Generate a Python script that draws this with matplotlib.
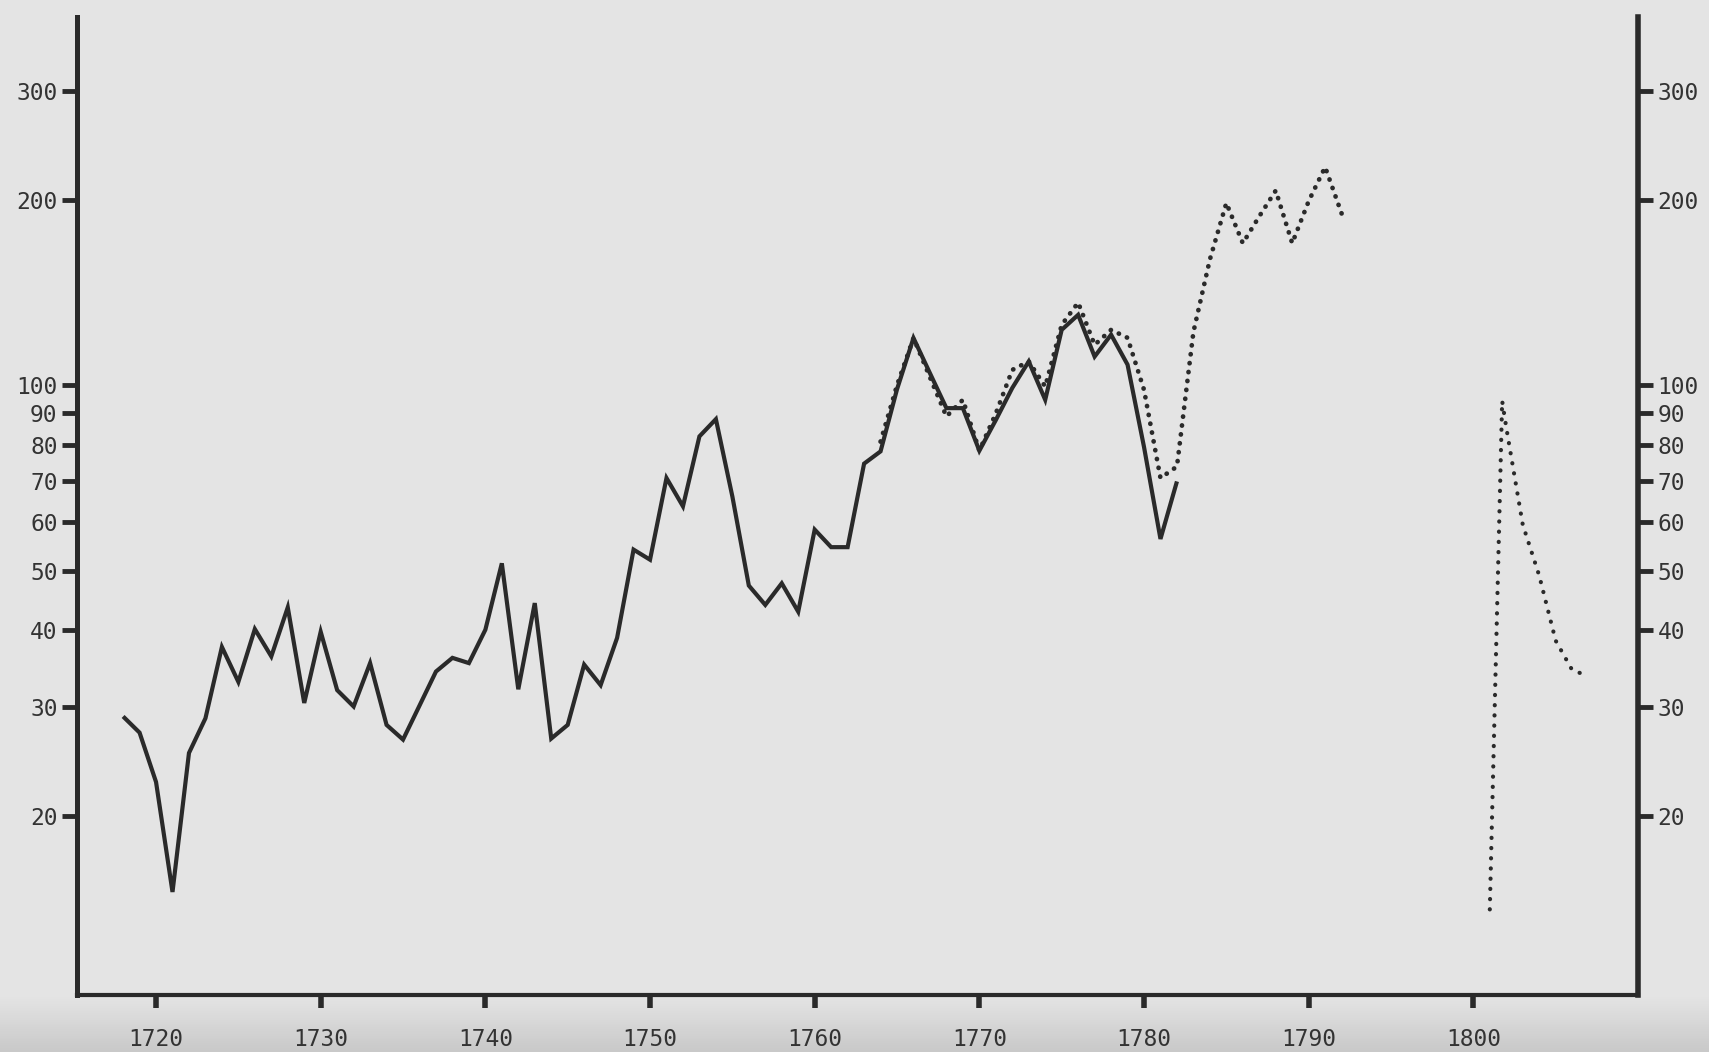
import numpy as np
import matplotlib
matplotlib.use("Agg")
import matplotlib.pyplot as plt

# Annual index, solid series (1718-1782)
solid_years = list(range(1718, 1783))
solid_values = [
    29.0, 27.3, 22.7, 15.05, 25.3, 28.8, 37.6, 33.0, 40.2, 36.3,   # 1718-1727
    43.6, 30.5, 39.8, 32.0, 30.1, 35.4, 28.1, 26.6, 30.2, 34.3,    # 1728-1737
    36.1, 35.4, 40.1, 51.4, 32.1, 44.3, 26.7, 28.1, 35.2, 32.6,    # 1738-1747
    38.9, 54.1, 52.1, 70.7, 63.6, 82.6, 88.1, 66.0, 47.3, 44.0,    # 1748-1757
    47.7, 42.9, 58.3, 54.6, 54.6, 74.6, 78.1, 98.5, 119.3, 104.6,  # 1758-1767
    91.8, 91.8, 78.3, 87.8, 99.0, 109.3, 94.7, 123.0, 130.1, 111.3,  # 1768-1777
    120.8, 108.0, 79.4, 56.3, 69.8,                                # 1778-1782
]

# Dotted series (1764-1792)
dotted_years = list(range(1764, 1793))
dotted_values = [
    81.0, 100.0, 119.3, 103.0, 89.0, 94.7, 78.3, 90.0, 105.9, 109.3,  # 1764-1773
    99.5, 125.3, 136.2, 116.3, 123.0, 119.4, 98.3, 70.7, 73.8, 122.0,  # 1774-1783
    160.0, 197.6, 170.0, 188.0, 207.0, 170.0, 199.0, 226.0, 190.0,     # 1784-1792
]

# Dotted series, early 19th century
late_years = [1801.0, 1801.75, 1802, 1803, 1804, 1805, 1806, 1807]
late_values = [14.1, 94.3, 85.4, 59.4, 49.1, 38.5, 34.5, 33.7]

x_ticks = [1720, 1730, 1740, 1750, 1760, 1770, 1780, 1790, 1800]
y_ticks = [20, 30, 40, 50, 60, 70, 80, 90, 100, 200, 300]

ink = "#2a2a2a"
paper = "#e4e4e4"

W, H = 1709, 1052
fig = plt.figure(figsize=(W / 100, H / 100), dpi=100, facecolor=paper)

# darker band along the lower edge of the page
band = fig.add_axes([0, 0, 1, 55 / H], zorder=-5)
grad = np.linspace(0, 1, 64)[:, None]
band.imshow(grad, aspect="auto", cmap=matplotlib.colors.LinearSegmentedColormap.from_list(
    "band", ["#c9c9c9", paper]), origin="lower", extent=[0, 1, 0, 1])
band.set_axis_off()

ax = fig.add_axes([77 / W, (H - 995) / H, (1638 - 77) / W, (995 - 17) / H])
ax.set_facecolor("none")
ax.set_yscale("log")
ax.set_xlim(1715.2, 1810.0)
ax.set_ylim(10.24, 396)

ax.plot(solid_years, solid_values, color=ink, lw=3.0, solid_joinstyle="miter",
        solid_capstyle="butt", zorder=3)
ax.plot(dotted_years, dotted_values, color=ink, lw=3.4, linestyle=(0, (0.05, 1.85)),
        dash_capstyle="round", zorder=4)
ax.plot(late_years, late_values, color=ink, lw=3.0, linestyle=(0, (0.05, 2.4)),
        dash_capstyle="round", zorder=4)

ax.spines["top"].set_visible(False)
ax.spines["left"].set_linewidth(3.6)
ax.spines["bottom"].set_linewidth(3.0)
ax.spines["right"].set_linewidth(4.0)
for s in ("left", "bottom", "right"):
    ax.spines[s].set_color(ink)

font = {"family": "DejaVu Sans Mono", "size": 16.5, "color": "#333333"}

ax.set_xticks(x_ticks)
ax.set_xticklabels([str(t) for t in x_ticks], fontdict=font)
ax.tick_params(axis="x", direction="out", length=9, width=4, pad=15, color=ink)

ax.yaxis.set_minor_locator(matplotlib.ticker.NullLocator())
ax.set_yticks(y_ticks)
ax.set_yticklabels([str(t) for t in y_ticks], fontdict=font)
ax.tick_params(axis="y", which="major", direction="out", length=11, width=3.5,
               pad=3, color=ink, left=True, right=True, labelleft=True, labelright=True)
ax.yaxis.set_minor_formatter(matplotlib.ticker.NullFormatter())

fig.savefig("out.png", dpi=100, facecolor=paper)
